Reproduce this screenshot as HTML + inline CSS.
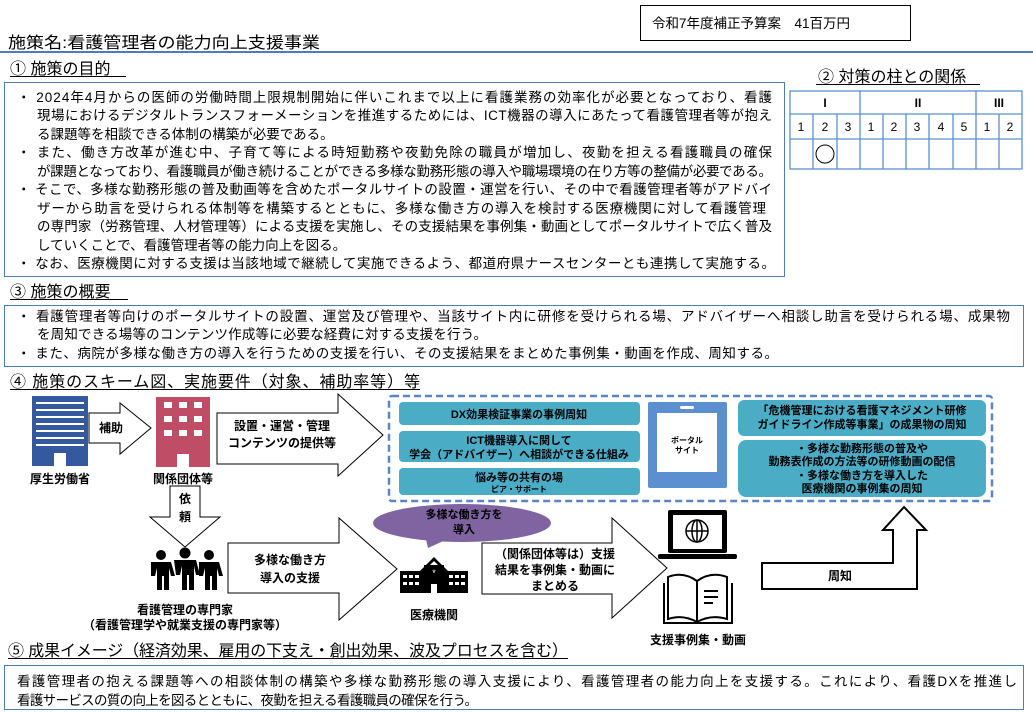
<!DOCTYPE html>
<html><head><meta charset="utf-8"><style>
html,body{margin:0;padding:0;background:#fff;width:1033px;height:713px;overflow:hidden}
svg{display:block}
text{font-family:"Liberation Sans","Noto Sans CJK JP",sans-serif;fill:#000}
.p{font-size:13.5px}
.h{font-size:16px}
.b{font-weight:bold;font-size:12px}
.s{font-weight:bold;font-size:11px}
.t{font-weight:bold;font-size:8px}
</style></head><body>
<svg width="1033" height="713" viewBox="0 0 1033 713" xmlns="http://www.w3.org/2000/svg">
<rect x="640.5" y="5.5" width="270" height="35" fill="#fff" stroke="#000" stroke-width="1"/>
<text x="652" y="28" class="p">令和7年度補正予算案　41百万円</text>
<text x="8" y="48" class="h" textLength="312" lengthAdjust="spacingAndGlyphs">施策名:看護管理者の能力向上支援事業</text>
<rect x="0" y="51" width="1033" height="2" fill="#4a7ebb"/>
<text x="10" y="74" class="h">①  施策の目的</text>
<rect x="10" y="76" width="116" height="1" fill="#000"/>
<rect x="4.5" y="82.5" width="780" height="194" fill="none" stroke="#4a7ebb" stroke-width="1"/>
<text x="17" y="102" class="p" textLength="755" lengthAdjust="spacing">・ 2024年4月からの医師の労働時間上限規制開始に伴いこれまで以上に看護業務の効率化が必要となっており、看護</text>
<text x="37" y="120" class="p" textLength="735" lengthAdjust="spacing">現場におけるデジタルトランスフォーメーションを推進するためには、ICT機器の導入にあたって看護管理者等が抱え</text>
<text x="37" y="139" class="p">る課題等を相談できる体制の構築が必要である。</text>
<text x="17" y="157" class="p" textLength="755" lengthAdjust="spacing">・ また、働き方改革が進む中、子育て等による時短勤務や夜勤免除の職員が増加し、夜勤を担える看護職員の確保</text>
<text x="37" y="176" class="p" textLength="735" lengthAdjust="spacing">が課題となっており、看護職員が働き続けることができる多様な勤務形態の導入や職場環境の在り方等の整備が必要である。</text>
<text x="17" y="194" class="p" textLength="755" lengthAdjust="spacing">・ そこで、多様な勤務形態の普及動画等を含めたポータルサイトの設置・運営を行い、その中で看護管理者等がアドバイ</text>
<text x="37" y="213" class="p" textLength="729" lengthAdjust="spacing">ザーから助言を受けられる体制等を構築するとともに、多様な働き方の導入を検討する医療機関に対して看護管理</text>
<text x="37" y="231" class="p" textLength="735" lengthAdjust="spacing">の専門家（労務管理、人材管理等）による支援を実施し、その支援結果を事例集・動画としてポータルサイトで広く普及</text>
<text x="37" y="250" class="p">していくことで、看護管理者等の能力向上を図る。</text>
<text x="17" y="268" class="p" textLength="758" lengthAdjust="spacing">・ なお、医療機関に対する支援は当該地域で継続して実施できるよう、都道府県ナースセンターとも連携して実施する。</text>
<text x="818" y="82" class="h">②  対策の柱との関係</text>
<rect x="816" y="84" width="164" height="1" fill="#000"/>
<g stroke="#5b8fd0" stroke-width="1.3" fill="none">
<rect x="790" y="91" width="232" height="78"/>
<line x1="790" y1="114" x2="1022" y2="114"/>
<line x1="790" y1="139" x2="1022" y2="139"/>
<line x1="860" y1="91" x2="860" y2="169"/>
<line x1="976" y1="91" x2="976" y2="169"/>
<line x1="813" y1="114" x2="813" y2="169"/>
<line x1="837" y1="114" x2="837" y2="169"/>
<line x1="883" y1="114" x2="883" y2="169"/>
<line x1="906" y1="114" x2="906" y2="169"/>
<line x1="929" y1="114" x2="929" y2="169"/>
<line x1="953" y1="114" x2="953" y2="169"/>
<line x1="999" y1="114" x2="999" y2="169"/>
</g>
<g font-size="12" text-anchor="middle">
<text x="825" y="107" font-family="Liberation Serif" font-weight="bold">I</text>
<text x="918" y="107" font-family="Liberation Serif" font-weight="bold">II</text>
<text x="999" y="107" font-family="Liberation Serif" font-weight="bold">III</text>
<text x="801" y="131">1</text><text x="825" y="131">2</text><text x="848" y="131">3</text>
<text x="871" y="131">1</text><text x="894" y="131">2</text><text x="917" y="131">3</text><text x="941" y="131">4</text><text x="964" y="131">5</text>
<text x="987" y="131">1</text><text x="1010" y="131">2</text>
</g>
<circle cx="825" cy="154" r="9" fill="none" stroke="#000" stroke-width="1"/>
<text x="10" y="297" class="h">③  施策の概要</text>
<rect x="10" y="299" width="118" height="1" fill="#000"/>
<rect x="4.5" y="305.5" width="1019" height="61" fill="none" stroke="#4a7ebb" stroke-width="1"/>
<text x="17" y="321" class="p" textLength="993" lengthAdjust="spacing">・ 看護管理者等向けのポータルサイトの設置、運営及び管理や、当該サイト内に研修を受けられる場、アドバイザーへ相談し助言を受けられる場、成果物</text>
<text x="37" y="339" class="p" textLength="450" lengthAdjust="spacing">を周知できる場等のコンテンツ作成等に必要な経費に対する支援を行う。</text>
<text x="17" y="358" class="p" textLength="761" lengthAdjust="spacing">・ また、病院が多様な働き方の導入を行うための支援を行い、その支援結果をまとめた事例集・動画を作成、周知する。</text>
<text x="10" y="387" class="h" textLength="410" lengthAdjust="spacing">④  施策のスキーム図、実施要件（対象、補助率等）等</text>
<rect x="10" y="389" width="410" height="1" fill="#000"/>
<rect x="32" y="396" width="56" height="70" fill="#34599e"/>
<g fill="#fff">
<rect x="36" y="402" width="48" height="2"/><rect x="36" y="409" width="48" height="2"/><rect x="36" y="416" width="48" height="2"/>
<rect x="36" y="423" width="48" height="2"/><rect x="36" y="430" width="48" height="2"/><rect x="36" y="437" width="48" height="2"/>
<rect x="36" y="444" width="48" height="2"/><rect x="54" y="453" width="12" height="13"/>
</g>
<text x="60" y="483" class="b" text-anchor="middle">厚生労働省</text>
<polygon points="89,413 120,413 120,403 151,428 120,454 120,443 89,443" fill="#fff" stroke="#000" stroke-width="1"/>
<text x="111" y="432" class="b" text-anchor="middle">補助</text>
<rect x="156" y="397" width="54" height="70" fill="#c04d66"/>
<g fill="#fff">
<rect x="164" y="402" width="8" height="6"/><rect x="179" y="402" width="8" height="6"/><rect x="194" y="402" width="8" height="6"/>
<rect x="164" y="416" width="8" height="6"/><rect x="179" y="416" width="8" height="6"/><rect x="194" y="416" width="8" height="6"/>
<rect x="164" y="430" width="8" height="6"/><rect x="179" y="430" width="8" height="6"/><rect x="194" y="430" width="8" height="6"/>
<rect x="177" y="454" width="12" height="13"/>
</g>
<text x="183" y="483" class="b" text-anchor="middle">関係団体等</text>
<polygon points="217,413 338,413 338,394 383,435 338,476 338,464 217,464" fill="#fff" stroke="#000" stroke-width="1"/>
<text x="282" y="430" class="b" text-anchor="middle">設置・運営・管理</text>
<text x="282" y="447" class="b" text-anchor="middle">コンテンツの提供等</text>
<polygon points="170,486 200,486 200,517 220,517 185,547 150,517 170,517" fill="#fff" stroke="#000" stroke-width="1"/>
<text x="185" y="503" class="b" text-anchor="middle">依</text>
<text x="185" y="521" class="b" text-anchor="middle">頼</text>
<g fill="#000">
<circle cx="161" cy="555" r="5"/><circle cx="185" cy="553" r="5.5"/><circle cx="209" cy="555" r="5"/>
<path d="M151,562 h20 l4,14 h-4 l-2,-8 v22 h-5 v-14 h-2 v14 h-5 v-22 l-2,8 h-4z"/>
<path d="M174,560 h22 l4,15 h-4 l-2,-9 v24 h-5 v-15 h-2 v15 h-5 v-24 l-2,9 h-4z"/>
<path d="M199,562 h20 l4,14 h-4 l-2,-8 v22 h-5 v-14 h-2 v14 h-5 v-22 l-2,8 h-4z"/>
</g>
<text x="185" y="614" class="b" text-anchor="middle">看護管理の専門家</text>
<text x="185" y="629" class="b" text-anchor="middle">（看護管理学や就業支援の専門家等）</text>
<polygon points="228,543 339,543 339,518 397,569 339,620 339,593 228,593" fill="#fff" stroke="#000" stroke-width="1"/>
<text x="290" y="564" class="b" text-anchor="middle">多様な働き方</text>
<text x="290" y="582" class="b" text-anchor="middle">導入の支援</text>
<rect x="389" y="396" width="603" height="105" fill="none" stroke="#5b86c4" stroke-width="2.5" stroke-dasharray="7,4" rx="3"/>
<g fill="#4bacc6">
<rect x="399" y="402" width="241" height="23" rx="4"/>
<rect x="399" y="431" width="241" height="31" rx="4"/>
<rect x="399" y="468" width="241" height="27" rx="4"/>
<rect x="738" y="400" width="248" height="36" rx="6"/>
<rect x="738" y="440" width="248" height="57" rx="8"/>
</g>
<text x="519" y="418" class="s" text-anchor="middle">DX効果検証事業の事例周知</text>
<text x="519" y="444" class="s" text-anchor="middle">ICT機器導入に関して</text>
<text x="519" y="458" class="s" text-anchor="middle">学会（アドバイザー）へ相談ができる仕組み</text>
<text x="519" y="481" class="s" text-anchor="middle">悩み等の共有の場</text>
<text x="519" y="492" class="t" text-anchor="middle">ピア・サポート</text>
<rect x="648" y="402" width="79" height="86" rx="2" fill="#5b8fd0"/>
<rect x="657" y="413" width="60" height="59" fill="#fff"/>
<rect x="680" y="406" width="14" height="3" rx="1.5" fill="#fff"/>
<text x="687" y="443" class="t" text-anchor="middle">ポータル</text>
<text x="687" y="453" class="t" text-anchor="middle">サイト</text>
<text x="862" y="414" class="s" text-anchor="middle">「危機管理における看護マネジメント研修</text>
<text x="862" y="428" class="s" text-anchor="middle">ガイドライン作成等事業」の成果物の周知</text>
<text x="862" y="452" class="s" text-anchor="middle">・多様な勤務形態の普及や</text>
<text x="862" y="465" class="s" text-anchor="middle">勤務表作成の方法等の研修動画の配信</text>
<text x="862" y="479" class="s" text-anchor="middle">・多様な働き方を導入した</text>
<text x="862" y="492" class="s" text-anchor="middle">医療機関の事例集の周知</text>
<ellipse cx="462" cy="523" rx="89" ry="19" fill="#8064a2"/>
<polygon points="425,535 450,538 428,548" fill="#8064a2"/>
<text x="464" y="518" class="s" text-anchor="middle">多様な働き方を</text>
<text x="464" y="533" class="s" text-anchor="middle">導入</text>
<g fill="#000">
<polygon points="420,571 434,557 448,571 444,571 434,561 424,571"/>
<rect x="400" y="571" width="68" height="22"/>
<rect x="424" y="565" width="20" height="8"/>
</g>
<g fill="#fff">
<rect x="403" y="575" width="4" height="3"/><rect x="409" y="575" width="4" height="3"/><rect x="415" y="575" width="4" height="3"/>
<rect x="403" y="582" width="4" height="3"/><rect x="409" y="582" width="4" height="3"/><rect x="415" y="582" width="4" height="3"/>
<rect x="449" y="575" width="4" height="3"/><rect x="455" y="575" width="4" height="3"/><rect x="461" y="575" width="4" height="3"/>
<rect x="449" y="582" width="4" height="3"/><rect x="455" y="582" width="4" height="3"/><rect x="461" y="582" width="4" height="3"/>
<rect x="431" y="584" width="6" height="9"/>
</g>
<text x="434" y="576" text-anchor="middle" style="fill:#fff;font-size:9px">*</text>
<text x="434" y="619" class="b" text-anchor="middle">医療機関</text>
<polygon points="482,543 612,543 612,518 667,568 612,618 612,594 482,594" fill="#fff" stroke="#000" stroke-width="1"/>
<text x="555" y="558" class="b" text-anchor="middle">（関係団体等は）支援</text>
<text x="555" y="574" class="b" text-anchor="middle">結果を事例集・動画に</text>
<text x="555" y="590" class="b" text-anchor="middle">まとめる</text>
<rect x="668" y="510" width="59" height="43" rx="2" fill="#000"/>
<rect x="673" y="515" width="49" height="34" fill="#fff"/>
<rect x="658" y="554" width="79" height="5" rx="2" fill="#000"/>
<g fill="none" stroke="#000" stroke-width="1.5">
<circle cx="697" cy="531" r="11"/><ellipse cx="697" cy="531" rx="5" ry="11"/>
<line x1="686" y1="531" x2="708" y2="531"/><line x1="697" y1="520" x2="697" y2="542"/>
</g>
<g fill="none" stroke="#000" stroke-width="2">
<path d="M668,577 q15,-6 29,4 q14,-10 30,-4 v42 q-16,-5 -30,3 q-14,-8 -29,-3z"/>
<path d="M697,581 v41"/>
<path d="M664,583 v40 h33 h35 v-40"/>
<line x1="704" y1="591" x2="718" y2="591"/><line x1="704" y1="597" x2="718" y2="597"/><line x1="704" y1="603" x2="713" y2="603"/>
</g>
<text x="698" y="644" class="b" text-anchor="middle">支援事例集・動画</text>
<polygon points="762,563 893,563 893,530 883,530 904,507 926,530 917,530 917,589 762,589" fill="#fff" stroke="#000" stroke-width="2"/>
<text x="840" y="580" class="b" text-anchor="middle">周知</text>
<text x="8" y="656" class="h" textLength="560" lengthAdjust="spacing">⑤ 成果イメージ（経済効果、雇用の下支え・創出効果、波及プロセスを含む）</text>
<rect x="8" y="658" width="560" height="1" fill="#000"/>
<rect x="4.5" y="665.5" width="1019" height="44" fill="none" stroke="#4a7ebb" stroke-width="1"/>
<text x="17" y="686" class="p" textLength="1000" lengthAdjust="spacing">看護管理者の抱える課題等への相談体制の構築や多様な勤務形態の導入支援により、看護管理者の能力向上を支援する。これにより、看護DXを推進し</text>
<text x="17" y="705" class="p" textLength="461" lengthAdjust="spacing">看護サービスの質の向上を図るとともに、夜勤を担える看護職員の確保を行う。</text>
</svg>
</body></html>
